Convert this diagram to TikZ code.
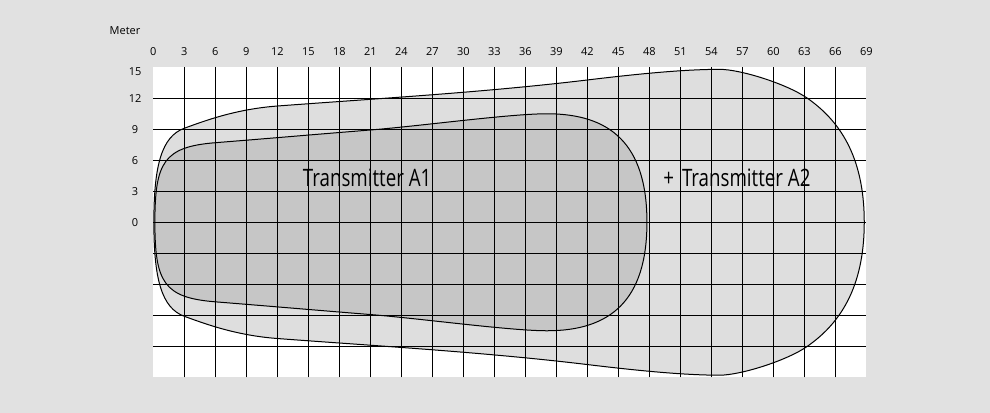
\documentclass[tikz,border=0pt]{standalone}
\usepackage{fontspec}
\setmainfont{Open Sans}
\newfontfamily\condfont[FakeStretch=0.78]{Open Sans}
\definecolor{bggray}{RGB}{225,225,225}
\definecolor{zonelight}{RGB}{222,222,222}
\definecolor{zonedark}{RGB}{198,198,198}

\begin{document}
\begin{tikzpicture}[
  x=10.3333pt,
  y=10.3333pt,
  plotarea/.style={fill=white},
  gridln/.style={draw=black,line width=0.75pt},
  zone/.style={draw=black,line width=1pt},
  tick/.style={font=\fontsize{11}{13}\selectfont,inner sep=0pt},
  txlab/.style={font=\condfont\fontsize{24}{28}\selectfont,inner sep=0pt}
]
\fill[bggray] (-14.84,-18.45) rectangle (80.97,21.51);
\useasboundingbox (-14.84,-18.45) rectangle (80.97,21.51);
\path[plotarea] (0,-15) rectangle (69,15);

% coverage of transmitter A2
\draw[zone,fill=zonelight] (0.05,0)
  .. controls (0.05,5.5) and (0.8,8.3) .. (3,9.1)
  .. controls (5,9.83) and (8,10.95) .. (12,11.25)
  .. controls (22,12) and (32,12.57) .. (42,13.77)
  .. controls (46,14.25) and (51,14.8) .. (54.8,14.8)
  .. controls (56.8,14.8) and (61.3,13.4) .. (63.3,12)
  .. controls (66.3,9.9) and (68.8,6.5) .. (68.8,0)
  .. controls (68.8,-6.5) and (66.3,-9.9) .. (63.3,-12)
  .. controls (61.3,-13.4) and (56.8,-14.8) .. (54.8,-14.8)
  .. controls (51,-14.8) and (46,-14.25) .. (42,-13.77)
  .. controls (32,-12.57) and (22,-12) .. (12,-11.25)
  .. controls (8,-10.95) and (5,-9.83) .. (3,-9.1)
  .. controls (0.8,-8.3) and (0.05,-5.5) .. (0.05,0) -- cycle;

% coverage of transmitter A1
\draw[zone,fill=zonedark] (0.15,0)
  .. controls (0.15,5.8) and (1,7.3) .. (6,7.7)
  .. controls (12,8.18) and (16,8.53) .. (21,8.93)
  .. controls (26,9.33) and (34.5,10.5) .. (38.1,10.5)
  .. controls (44.2,10.5) and (47.77,7.6) .. (47.77,0)
  .. controls (47.77,-7.6) and (44.2,-10.5) .. (38.1,-10.5)
  .. controls (34.5,-10.5) and (26,-9.33) .. (21,-8.93)
  .. controls (16,-8.53) and (12,-8.18) .. (6,-7.7)
  .. controls (1,-7.3) and (0.15,-5.8) .. (0.15,0) -- cycle;

\foreach \x in {3,6,...,66}
  \draw[gridln] (\x,-15) -- (\x,15);
\foreach \y in {-12,-9,...,12}
  \draw[gridln] (0,\y) -- (69,\y);

\node[tick] (meter) at (-2.74,18.5) {Meter};
\foreach \x in {0,3,...,69}
  \node[tick,anchor=base] (xl\x) at (\x,16.1) {\x};
\foreach \y in {0,3,...,12}
  \node[tick] (yl\y) at (-1.77,\y) {\y};
\node[tick] (yl15) at (-1.77,14.6) {15};

\node[txlab,anchor=base west] (txa) at (14.46,3.45) {Transmitter A1};
\node[txlab,anchor=base west] (txb) at (49.35,3.45) {+\kern3pt{} Transmitter A2};
\end{tikzpicture}
\end{document}
